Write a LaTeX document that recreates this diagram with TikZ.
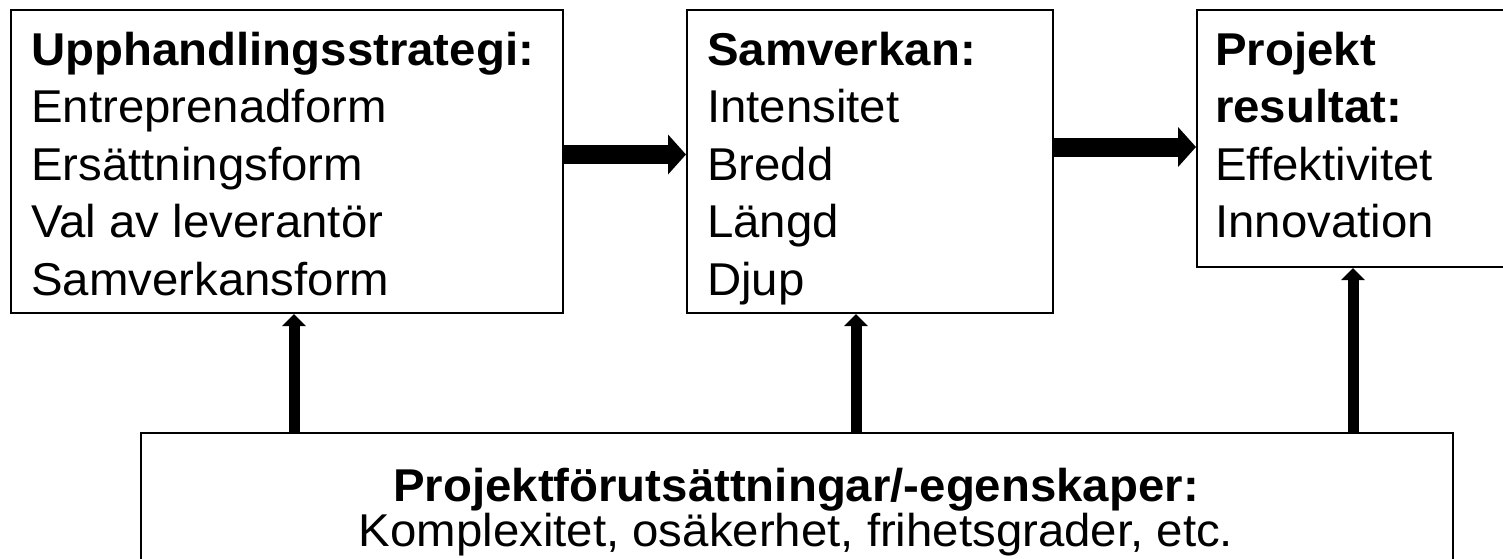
\documentclass[tikz,border=0pt]{standalone}
\usepackage{fontspec}
\setmainfont{Liberation Sans}[FakeStretch=1.03]
\usetikzlibrary{arrows.meta}
\begin{document}
\begin{tikzpicture}[x=1pt,y=-1pt,
  box/.style={draw=black,line width=2pt,rectangle,inner sep=0pt,anchor=north west},
  txt/.style={inner sep=0pt,anchor=base west,font=\fontsize{46}{55}\selectfont},
  hd/.style={inner sep=0pt,anchor=base west,font=\fontsize{46}{55}\selectfont\bfseries},
  ctxt/.style={inner sep=0pt,anchor=base,font=\fontsize{46}{55}\selectfont},
  chd/.style={inner sep=0pt,anchor=base,font=\fontsize{46}{55}\selectfont\bfseries},
  harrow/.style={line width=19pt,-{Triangle[length=18pt,width=39pt]}},
  varrow/.style={line width=11pt,-{Triangle[length=12pt,width=23pt]}}]
\useasboundingbox (0,0) rectangle (1503,558);
\clip (0,0) rectangle (1503,558);
\fill[white] (0,0) rectangle (1503,558);
% boxes
\node[box,minimum width=552pt,minimum height=303pt] (b1) at (10,9) {};
\node[box,minimum width=366pt,minimum height=303pt] (b2) at (686,9) {};
\node[box,minimum width=324pt,minimum height=257pt] (b3) at (1196,9) {};
\node[box,minimum width=1312pt,minimum height=148pt] (b4) at (140,432) {};
% box 1 text
\node[hd]  (t11) at (31,65)    {Upphandlingsstrategi:};
\node[txt] (t12) at (31,122.5) {Entreprenadform};
\node[txt] (t13) at (31,180)   {Ersättningsform};
\node[txt] (t14) at (31,237.5) {Val av leverantör};
\node[txt] (t15) at (31,295)   {Samverkansform};
% box 2 text
\node[hd]  (t21) at (707,65)    {Samverkan:};
\node[txt] (t22) at (707,122.5) {Intensitet};
\node[txt] (t23) at (707,180)   {Bredd};
\node[txt] (t24) at (707,237.5) {Längd};
\node[txt] (t25) at (707,295)   {Djup};
% box 3 text
\node[hd]  (t31) at (1215,65)    {Projekt};
\node[hd]  (t32) at (1215,122.5) {resultat:};
\node[txt] (t33) at (1215,180)   {Effektivitet};
\node[txt] (t34) at (1215,237.5) {Innovation};
% bottom text
\node[chd]  (t41) at (796,501) {Projektförutsättningar/-egenskaper:};
\node[ctxt] (t42) at (796,546) {Komplexitet, osäkerhet, frihetsgrader, etc.};
% horizontal arrows
\draw[harrow] ([yshift=7pt]b1.east) -- ([yshift=7pt]b1.east -| b2.west);
\draw[harrow] ([yshift=14.5pt]b2.east) -- ([yshift=14.5pt]b2.east -| b3.west);
% vertical arrows
\coordinate (a1) at ([xshift=7pt]b1.south);
\coordinate (a2) at ([xshift=-14pt]b2.south);
\coordinate (a3) at ([xshift=-6pt]b3.south);
\draw[varrow] (a1 |- b4.north) -- (a1);
\draw[varrow] (a2 |- b4.north) -- (a2);
\draw[varrow] (a3 |- b4.north) -- (a3);
\end{tikzpicture}
\end{document}
